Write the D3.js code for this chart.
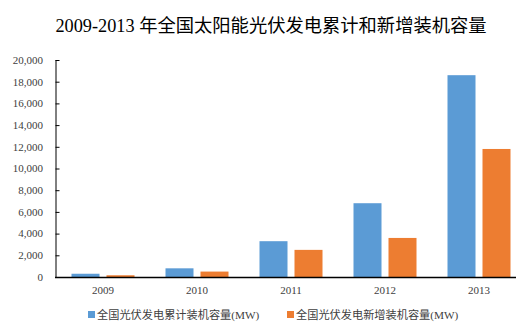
<!DOCTYPE html>
<html><head><meta charset="utf-8">
<script src="https://cdn.jsdelivr.net/npm/d3@7"></script>
<style>
html,body{margin:0;padding:0;background:#fff;}
svg{display:block;}
</style>
</head><body>
<svg id="chart" width="523" height="330"></svg>
<script>
const years = ["2009","2010","2011","2012","2013"];
const seriesNames = ["全国光伏发电累计装机容量(MW)","全国光伏发电新增装机容量(MW)"];
const cumulative = [300, 800, 3300, 6800, 18600];
const added = [160, 500, 2500, 3600, 11800];
const yTicks = [0,2000,4000,6000,8000,10000,12000,14000,16000,18000,20000];
const colors = ["#5B9BD5","#ED7D31"];
const title = "2009-2013 年全国太阳能光伏发电累计和新增装机容量";

(function(){
const svg = d3.select("#chart");
const serif = "'Liberation Serif','Times New Roman','Noto Sans CJK SC',serif";
const pLeft = 56, pRight = 526, pTop = 60, pBottom = 277;

const x = d3.scaleBand().domain(years).range([pLeft, pRight]).padding(0);
const x1 = d3.scaleBand().domain([0,1]).range([0,63]).paddingInner(0.2).paddingOuter(0);
const y = d3.scaleLinear().domain([0,20000]).range([pBottom, pTop]);

svg.append("text").attr("x",271).attr("y",32).attr("text-anchor","middle")
  .attr("font-family",serif).attr("font-size",18.3).attr("fill","#000").text(title);

const data = years.map((yr,i)=>({yr, vals:[cumulative[i], added[i]]}));
const off = (x.bandwidth()-63)/2;
const g = svg.append("g");
data.forEach(d=>{
  d.vals.forEach((v,j)=>{
    g.append("rect")
      .attr("x", x(d.yr)+off+x1(j))
      .attr("y", y(v))
      .attr("width", x1.bandwidth())
      .attr("height", y(0)-y(v))
      .attr("fill", colors[j]);
  });
});

// y axis
const yAxis = d3.axisRight(y).tickValues(yTicks).tickSize(4).tickFormat("");
const ya = svg.append("g").attr("transform",`translate(${pLeft-0.5},0)`).call(yAxis);
ya.select(".domain").attr("stroke","#000").attr("d",`M0.5,${pTop}V${pBottom}`);
ya.selectAll(".tick line").attr("stroke","#000");
yTicks.forEach(t=>{
  svg.append("text").attr("x",43).attr("y",y(t)).attr("dy","0.35em")
    .attr("text-anchor","end").attr("font-family",serif).attr("font-size",11)
    .attr("fill","#404040").text(d3.format(",")(t));
});

// x axis
svg.append("line").attr("x1",pLeft-1).attr("x2",516).attr("y1",pBottom+0.5).attr("y2",pBottom+0.5)
  .attr("stroke","#000").attr("stroke-width",1.5);
years.forEach(yr=>{
  svg.append("text").attr("x",x(yr)+x.bandwidth()/2).attr("y",294)
    .attr("text-anchor","middle").attr("font-family",serif).attr("font-size",11)
    .attr("fill","#404040").text(yr);
});

// legend
const legX = [88, 287];
seriesNames.forEach((n,i)=>{
  svg.append("rect").attr("x",legX[i]).attr("y",311).attr("width",7).attr("height",7).attr("fill",colors[i]);
  svg.append("text").attr("x",legX[i]+9).attr("y",318.5)
    .attr("font-family",serif).attr("font-size",11.2).attr("fill","#404040").text(n);
});
})();
</script>
</body></html>
